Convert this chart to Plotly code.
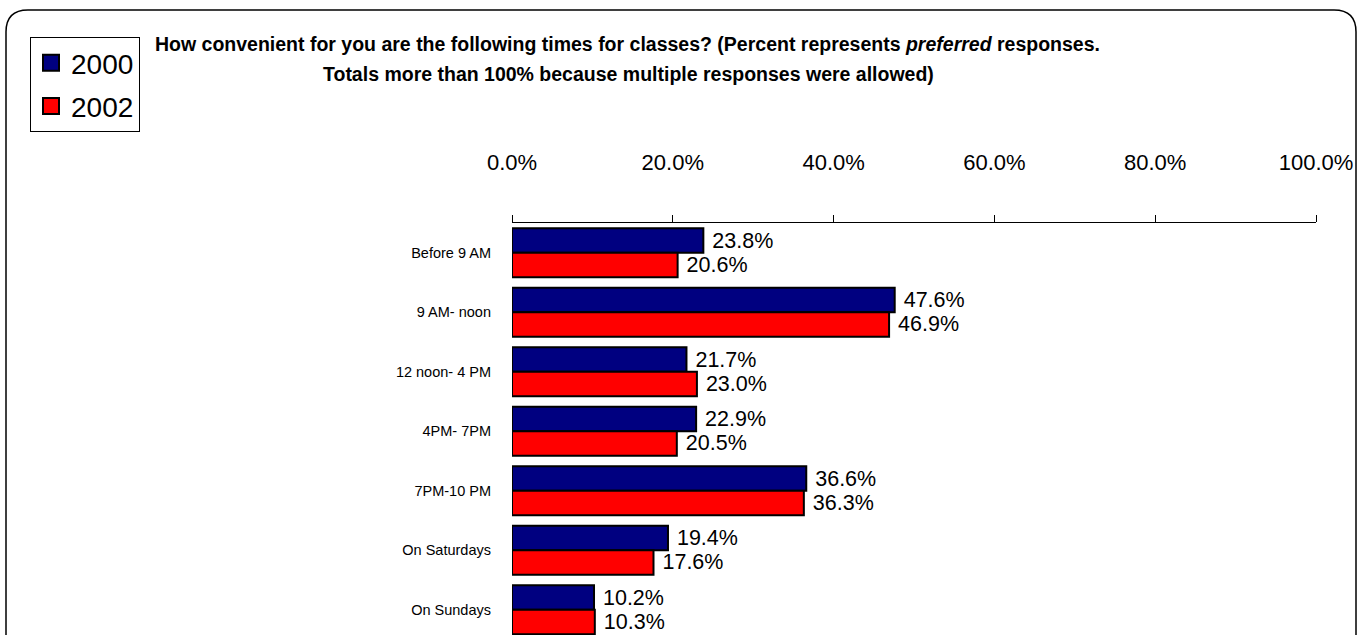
import plotly.graph_objects as go

categories = ["Before 9 AM", "9 AM- noon", "12 noon- 4 PM", "4PM- 7PM", "7PM-10 PM", "On Saturdays", "On Sundays"]
vals_2000 = [0.238, 0.476, 0.217, 0.229, 0.366, 0.194, 0.102]
vals_2002 = [0.206, 0.469, 0.230, 0.205, 0.363, 0.176, 0.103]
tick_vals = [0, 0.2, 0.4, 0.6, 0.8, 1.0]
tick_text = ["0.0%", "20.0%", "40.0%", "60.0%", "80.0%", "100.0%"]

W, H = 1363, 635
L, R, T, B = 512, 1316, 223, 635
PITCH = 59.5  # px per category

def px(x):
    return (x - L) / (R - L)

def py(y):
    return (B - y) / (B - T)

FONT = "Liberation Sans, Arial, sans-serif"
colors = {"2000": "#000080", "2002": "#FF0000"}

fig = go.Figure()
for name, vals in [("2000", vals_2000), ("2002", vals_2002)]:
    fig.add_trace(go.Bar(
        name=name, y=categories, x=vals, orientation="h",
        marker=dict(color=colors[name], line=dict(color="black", width=2)),
        texttemplate=" %{x:.1%}", textposition="outside",
        textfont=dict(size=21.5, color="black", family=FONT),
        constraintext="none", cliponaxis=False,
        showlegend=False,
    ))
# legend entries
for name in ["2000", "2002"]:
    fig.add_trace(go.Scatter(
        name=name, x=[None], y=[None], mode="markers",
        marker=dict(symbol="square", size=17, color=colors[name],
                    line=dict(color="black", width=2)),
        legendgroup=name, showlegend=True,
    ))

span = (B - T) / PITCH
fig.update_layout(
    width=W, height=H,
    margin=dict(l=L, r=W - R, t=T, b=H - B, pad=0),
    paper_bgcolor="white", plot_bgcolor="white",
    barmode="group", bargap=0.18, bargroupgap=0,
    font=dict(family=FONT, color="black"),
    showlegend=True,
    legend=dict(
        x=px(30), y=py(37), xanchor="left", yanchor="top",
        xref="paper", yref="paper",
        bordercolor="black", borderwidth=1, bgcolor="white",
        font=dict(size=28, family=FONT, color="black"),
        tracegroupgap=4, itemwidth=30,
    ),
    xaxis=dict(
        side="top", range=[0, 1], tickvals=tick_vals, ticktext=tick_text,
        showgrid=False, zeroline=False, showline=True, linecolor="black", linewidth=1,
        ticks="outside", ticklen=7, tickcolor="black",
        tickfont=dict(size=22, family=FONT, color="black"),
        ticklabelstandoff=36,
    ),
    yaxis=dict(
        range=[span - 0.5, -0.5], showgrid=False, zeroline=False, showline=False,
        ticks="", tickfont=dict(size=14.5, family=FONT, color="black"),
        ticklabelstandoff=20,
    ),
)

# rounded frame
x0, x1, y0, y1, r = 6, 1356, 10, 700, 22
path = (f"M {px(x0)},{py(y1)} L {px(x0)},{py(y0 + r)} "
        f"Q {px(x0)},{py(y0)} {px(x0 + r)},{py(y0)} "
        f"L {px(x1 - r)},{py(y0)} Q {px(x1)},{py(y0)} {px(x1)},{py(y0 + r)} "
        f"L {px(x1)},{py(y1)}")
fig.add_shape(type="path", path=path, xref="paper", yref="paper",
              line=dict(color="black", width=1.5), layer="below")

fig.add_annotation(
    text="How convenient for you are the following times for classes? (Percent represents <i>preferred</i> responses.",
    x=px(627), y=py(44), xref="paper", yref="paper", xanchor="center", yanchor="middle",
    showarrow=False, font=dict(size=19.5, family=FONT, color="black", weight="bold"))
fig.add_annotation(
    text="Totals more than 100% because multiple responses were allowed)",
    x=px(628), y=py(74), xref="paper", yref="paper", xanchor="center", yanchor="middle",
    showarrow=False, font=dict(size=19.5, family=FONT, color="black", weight="bold"))

fig.write_html(
    "out.html",
    config={"displayModeBar": False},
    post_script="document.body.style.margin='0';document.body.style.overflow='hidden';",
)
